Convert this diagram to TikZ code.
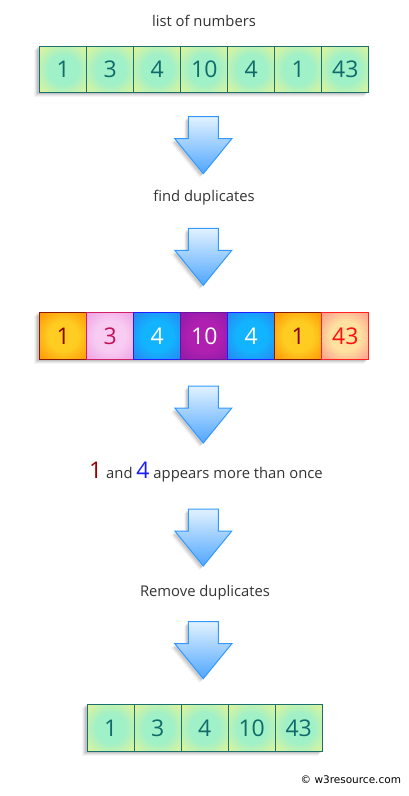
\documentclass[tikz,border=0pt]{standalone}
\usepackage{fontspec}
\setmainfont{Open Sans}
\newfontfamily\wfont{DejaVu Sans}
\definecolor{txtgray}{HTML}{333333}
\definecolor{gIn}{HTML}{A0F0C8}
\definecolor{gOut}{HTML}{F2F58C}
\definecolor{gBd}{HTML}{1A7070}
\definecolor{gTx}{HTML}{0F6B6B}
\definecolor{oIn}{HTML}{FFCC22}
\definecolor{oOut}{HTML}{FF8800}
\definecolor{oBd}{HTML}{8B1A00}
\definecolor{oTx}{HTML}{8B0000}
\definecolor{pIn}{HTML}{F8CCF2}
\definecolor{pOut}{HTML}{EC98E0}
\definecolor{pBd}{HTML}{D0206A}
\definecolor{pTx}{HTML}{C8105A}
\definecolor{bIn}{HTML}{12B4FF}
\definecolor{bOut}{HTML}{2C7AF0}
\definecolor{bBd}{HTML}{1E1EFF}
\definecolor{vIn}{HTML}{B020B0}
\definecolor{vOut}{HTML}{8818A8}
\definecolor{vBd}{HTML}{7010A0}
\definecolor{sIn}{HTML}{FFE2A0}
\definecolor{sOut}{HTML}{FF8888}
\definecolor{sBd}{HTML}{FF2020}
\definecolor{sTx}{HTML}{FF1010}
\definecolor{arTop}{HTML}{E2F2FF}
\definecolor{arBot}{HTML}{4FA6FF}
\definecolor{arBd}{HTML}{3399FF}
\definecolor{oneRed}{HTML}{990000}
\definecolor{fourBlue}{HTML}{1A1AFF}
\colorlet{cIn}{gIn}
\colorlet{cOut}{gOut}
\pgfdeclareradialshading[cIn,cOut]{cellrad}{\pgfpoint{0bp}{0bp}}{%
  color(0bp)=(cIn); color(16bp)=(cIn); color(40bp)=(cOut); color(50bp)=(cOut)}
\newcommand{\rowshadow}[4]{%
  \foreach \o/\a in {5/0.04,4/0.05,3/0.07,2/0.09}{%
    \fill[black,opacity=\a] (#1-\o,#2-1+\o) rectangle (#3-\o+1,#4+\o);}}
\newcommand{\downarr}[2]{%
  \foreach \o/\a in {4/0.05,3/0.07,2/0.09}{%
    \fill[black,opacity=\a] (#1-15-\o,#2+\o) -- (#1+15-\o,#2+\o) -- (#1+15-\o,#2+22+\o) -- (#1+28.5-\o,#2+22+\o) -- (#1-\o,#2+57+\o) -- (#1-28.5-\o,#2+22+\o) -- (#1-15-\o,#2+22+\o) -- cycle;}
  \draw[arBd,line width=1pt,top color=arTop,bottom color=arBot,line join=miter]
    (#1-15,#2) -- (#1+15,#2) -- (#1+15,#2+22) -- (#1+28.5,#2+22) -- (#1,#2+57) -- (#1-28.5,#2+22) -- (#1-15,#2+22) -- cycle;}
\tikzset{
  cellbox/.style n args={4}{/utils/exec={\colorlet{cIn}{#1}\colorlet{cOut}{#2}},
    shade, shading=cellrad, draw=#3, text=#4,
    minimum width=47pt, minimum height=46.6pt, inner sep=0pt, anchor=north west,
    line width=0.9pt, font=\fontsize{23}{23}\selectfont},
  gcell/.style={cellbox={gIn}{gOut}{gBd}{gTx}},
  ocell/.style={cellbox={oIn}{oOut}{oBd}{oTx}},
  pcell/.style={cellbox={pIn}{pOut}{pBd}{pTx}},
  bcell/.style={cellbox={bIn}{bOut}{bBd}{white}},
  vcell/.style={cellbox={vIn}{vOut}{vBd}{white}},
  scell/.style={cellbox={sIn}{sOut}{sBd}{sTx}},
  caption/.style={text=txtgray, anchor=base, inner sep=0pt, font=\fontsize{14.8}{15}\selectfont},
}
\begin{document}
\begin{tikzpicture}[x=1pt,y=-1pt]
\useasboundingbox (0,0) rectangle (408,796);
\fill[white] (0,0) rectangle (408,796);

% captions
\node[caption] (t1) at (204,26.7) {list of numbers};
\node[caption] (t2) at (204,201.7) {find duplicates};
\node[caption] (t3) at (206,478.5) {{\color{oneRed}\fontsize{23}{23}\selectfont 1} and {\color{fourBlue}\fontsize{23}{23}\selectfont 4} appears more than once};
\node[caption] (t4) at (205,596.7) {Remove duplicates};

% row 1
\rowshadow{39.3}{45.7}{368.3}{92.3}
\foreach \v [count=\i from 0] in {1,3,4,10,4,1,43}
  \node[gcell] (a\i) at (39.3+47*\i,45.7) {\v};

% row 2
\rowshadow{39.3}{312.3}{368.3}{359}
\node[ocell] (b0) at (39.3,312.3) {1};
\node[pcell] (b1) at (86.3,312.3) {3};
\node[bcell] (b2) at (133.3,312.3) {4};
\node[vcell] (b3) at (180.3,312.3) {10};
\node[bcell] (b4) at (227.3,312.3) {4};
\node[ocell] (b5) at (274.3,312.3) {1};
\node[scell] (b6) at (321.3,312.3) {43};

% row 3
\rowshadow{86.7}{704.3}{321.7}{751}
\foreach \v [count=\i from 0] in {1,3,4,10,43}
  \node[gcell] (c\i) at (86.7+47*\i,704.3) {\v};

% arrows
\downarr{203.3}{116.7}
\downarr{203.3}{228.3}
\downarr{203.3}{386}
\downarr{203.3}{509}
\downarr{203.3}{621.7}

% copyright
\node[anchor=base west, inner sep=0pt, text=black, font=\wfont\fontsize{10.5}{11}\selectfont] (cr) at (300.5,783.3) {\textcopyright\ w3resource.com};
\end{tikzpicture}
\end{document}
